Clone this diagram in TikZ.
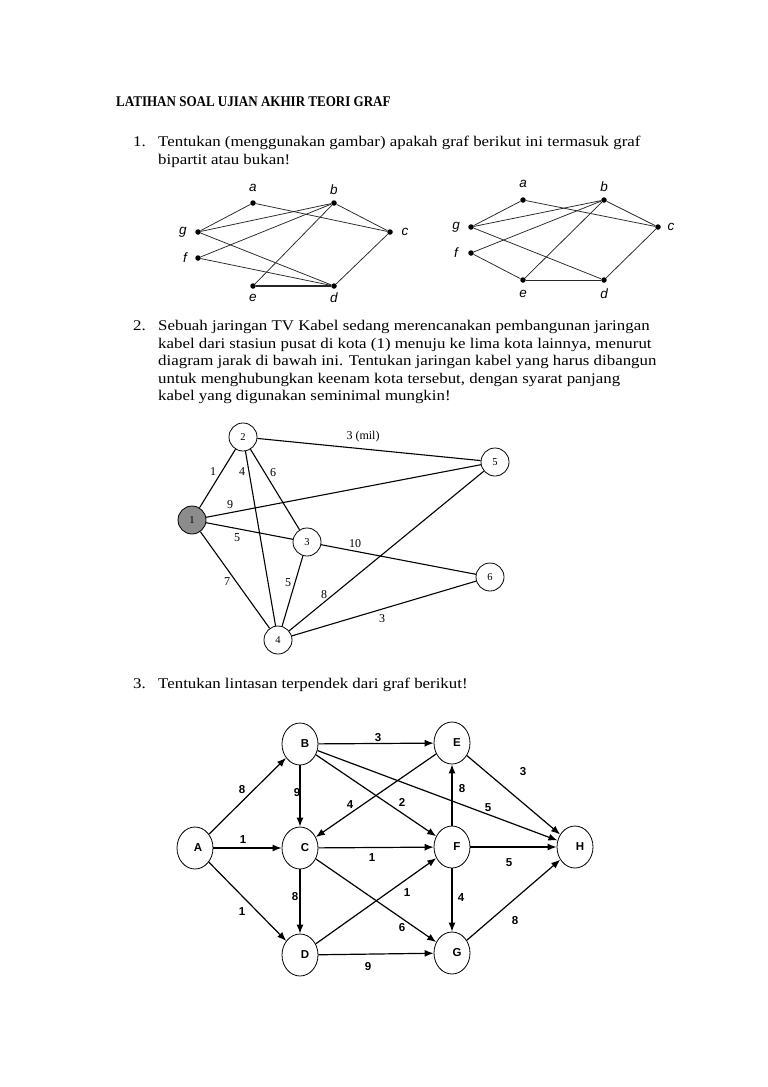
\documentclass[tikz,border=0pt]{standalone}
\usepackage{fontspec}
\setmainfont{Liberation Serif}[FakeStretch=1.14]
\newfontfamily\hdrf{Liberation Serif}[FakeStretch=0.88]
\newfontfamily\arialf{Liberation Sans}
\newfontfamily\timesf{Liberation Serif}
\usetikzlibrary{arrows.meta,shapes.geometric}
\begin{document}
\begin{tikzpicture}[x=1pt,y=-1pt,
  txt/.style={anchor=base west, inner sep=0, font=\fontsize{14.8}{17}\selectfont},
  dot/.style={circle, fill=black, inner sep=0, minimum size=5.5pt},
  glbl/.style={inner sep=0, font=\arialf\itshape\fontsize{13.5}{13.5}\selectfont},
  gedge/.style={line width=0.75, draw=black!85},
  circ/.style={circle, draw, minimum size=28pt, inner sep=0, line width=0.8, font=\timesf\fontsize{10.5}{10.5}\selectfont},
  cedge/.style={line width=1.1},
  clbl/.style={inner sep=0, font=\timesf\fontsize{12}{12}\selectfont},
  ell/.style={ellipse, draw, minimum width=36pt, minimum height=42pt, inner sep=0, line width=0.8, font=\arialf\bfseries\fontsize{11.5}{11.5}\selectfont},
  arr/.style={-{Latex[length=9pt,width=7pt]}, line width=1.2},
  albl/.style={inner sep=0, font=\arialf\bfseries\fontsize{11.5}{11.5}\selectfont}]
\useasboundingbox (0,0) rectangle (768,1087);
\fill[white] (0,0) rectangle (768,1087);

% ---------- texts ----------
\node[txt, font=\hdrf\bfseries\fontsize{14.8}{17}\selectfont] (title) at (116,106) {LATIHAN SOAL UJIAN AKHIR TEORI GRAF};
\node[txt] (n1) at (133,146) {1.};
\node[txt] (t1a) at (158,146) {Tentukan (menggunakan gambar) apakah graf berikut ini termasuk graf};
\node[txt] (t1b) at (158,164) {bipartit atau bukan!};
\node[txt] (n2) at (133,330) {2.};
\node[txt] (t2a) at (158,330) {Sebuah jaringan TV Kabel sedang merencanakan pembangunan jaringan};
\node[txt] (t2b) at (158,348) {kabel dari stasiun pusat di kota (1) menuju ke lima kota lainnya, menurut};
\node[txt] (t2c) at (158,365) {diagram jarak di bawah ini. Tentukan jaringan kabel yang harus dibangun};
\node[txt] (t2d) at (158,383) {untuk menghubungkan keenam kota tersebut, dengan syarat panjang};
\node[txt] (t2e) at (158,400) {kabel yang digunakan seminimal mungkin!};
\node[txt] (n3) at (133,688) {3.};
\node[txt] (t3a) at (158,688) {Tentukan lintasan terpendek dari graf berikut!};

% ---------- graph 1 left ----------
\node[dot] (La) at (253,203) {};
\node[dot] (Lb) at (334,203) {};
\node[dot] (Lc) at (390,232) {};
\node[dot] (Lg) at (198,232) {};
\node[dot] (Lf) at (198,258) {};
\node[dot] (Le) at (253,286) {};
\node[dot] (Ld) at (334,286) {};
\node[glbl] (Lla) at (253,188) {a};
\node[glbl] (Llb) at (334,190) {b};
\node[glbl] (Llc) at (405,232) {c};
\node[glbl] (Llg) at (183,232) {g};
\node[glbl] (Llf) at (185,258) {f};
\node[glbl] (Lle) at (253,298) {e};
\node[glbl] (Lld) at (334,298) {d};
\draw[gedge] (La) -- (Lg);
\draw[gedge] (La) -- (Lc);
\draw[gedge] (Lb) -- (Lg);
\draw[gedge] (Lb) -- (Lf);
\draw[gedge] (Lb) -- (Le);
\draw[gedge] (Lb) -- (Lc);
\draw[gedge] (Lg) -- (Ld);
\draw[gedge] (Lf) -- (Ld);
\draw[gedge] (Lc) -- (Ld);
\draw[gedge, line width=1.3] (Le) -- (Ld);

% ---------- graph 1 right ----------
\node[dot] (Ra) at (523,200) {};
\node[dot] (Rb) at (604,200) {};
\node[dot] (Rc) at (658,227) {};
\node[dot] (Rg) at (471,227) {};
\node[dot] (Rf) at (471,253) {};
\node[dot] (Re) at (523,280) {};
\node[dot] (Rd) at (604,280) {};
\node[glbl] (Rla) at (523,184) {a};
\node[glbl] (Rlb) at (604,187) {b};
\node[glbl] (Rlc) at (671,227) {c};
\node[glbl] (Rlg) at (456,227) {g};
\node[glbl] (Rlf) at (456,253) {f};
\node[glbl] (Rle) at (523,294) {e};
\node[glbl] (Rld) at (604,294) {d};
\draw[gedge] (Ra) -- (Rg);
\draw[gedge] (Ra) -- (Rc);
\draw[gedge] (Rb) -- (Rg);
\draw[gedge] (Rb) -- (Rf);
\draw[gedge] (Rb) -- (Re);
\draw[gedge] (Rb) -- (Rc);
\draw[gedge] (Rg) -- (Rd);
\draw[gedge] (Rf) -- (Re);
\draw[gedge] (Rc) -- (Rd);
\draw[gedge, line width=1] (Re) -- (Rd);

% ---------- graph 2 ----------
\node[circ, fill=black!45] (c1) at (192,520) {1};
\node[circ] (c2) at (243,437) {2};
\node[circ] (c3) at (307,542) {3};
\node[circ] (c4) at (278,640) {4};
\node[circ] (c5) at (495,462) {5};
\node[circ] (c6) at (490,577) {6};
\draw[cedge] (c1) -- (c2);
\draw[cedge] (c2) -- (c4);
\draw[cedge] (c2) -- (c3);
\draw[cedge] (c2) -- (c5);
\draw[cedge] (c1) -- (c5);
\draw[cedge] (c1) -- (c3);
\draw[cedge] (c1) -- (c4);
\draw[cedge] (c3) -- (c4);
\draw[cedge] (c3) -- (c6);
\draw[cedge] (c4) -- (c5);
\draw[cedge] (c4) -- (c6);
\node[clbl] (w12) at (213,472) {1};
\node[clbl] (w24) at (242,472) {4};
\node[clbl] (w23) at (273,473) {6};
\node[clbl] (w25) at (363,437) {3 (mil)};
\node[clbl] (w15) at (230,505) {9};
\node[clbl] (w13) at (237,538) {5};
\node[clbl] (w36) at (355,544) {10};
\node[clbl] (w14) at (227,582) {7};
\node[clbl] (w34) at (288,583) {5};
\node[clbl] (w45) at (324,595) {8};
\node[clbl] (w46) at (382,619) {3};

% ---------- graph 3 ----------
\node[ell] (A) at (195,848) {\hspace*{6pt}A};
\node[ell] (B) at (300,744) {\hspace*{10pt}B};
\node[ell] (C) at (300,848) {\hspace*{10pt}C};
\node[ell] (D) at (300,955) {\hspace*{10pt}D};
\node[ell] (E) at (452,743) {\hspace*{10pt}E};
\node[ell] (F) at (452,847) {\hspace*{10pt}F};
\node[ell] (G) at (452,953) {\hspace*{10pt}G};
\node[ell] (H) at (575,847) {\hspace*{10pt}H};
\draw[arr] (A) -- (B);
\draw[arr] (A) -- (C);
\draw[arr] (A) -- (D);
\draw[arr] (B) -- (E);
\draw[arr] (B) -- (C);
\draw[arr] (B) -- (F);
\draw[arr] (B) -- (H);
\draw[arr] (E) -- (C);
\draw[arr] (E) -- (H);
\draw[arr] (C) -- (F);
\draw[arr] (C) -- (D);
\draw[arr] (C) -- (G);
\draw[arr] (D) -- (F);
\draw[arr] (D) -- (G);
\draw[arr] (F) -- (E);
\draw[arr] (F) -- (H);
\draw[arr] (F) -- (G);
\draw[arr] (G) -- (H);
\node[albl] (lAB) at (242,790) {8};
\node[albl] (lAC) at (243,840) {1};
\node[albl] (lAD) at (242,912) {1};
\node[albl] (lBE) at (378,738) {3};
\node[albl] (lBC) at (297,793) {9};
\node[albl] (lEC) at (350,805) {4};
\node[albl] (lBF) at (402,802) {2};
\node[albl] (lCF) at (372,858) {1};
\node[albl] (lCD) at (295,897) {8};
\node[albl] (lDF) at (407,893) {1};
\node[albl] (lCG) at (402,928) {6};
\node[albl] (lDG) at (368,967) {9};
\node[albl] (lEH) at (523,772) {3};
\node[albl] (lFE) at (462,789) {8};
\node[albl] (lBH) at (488,808) {5};
\node[albl] (lFH) at (509,863) {5};
\node[albl] (lFG) at (461,898) {4};
\node[albl] (lGH) at (515,921) {8};
\end{tikzpicture}
\end{document}
